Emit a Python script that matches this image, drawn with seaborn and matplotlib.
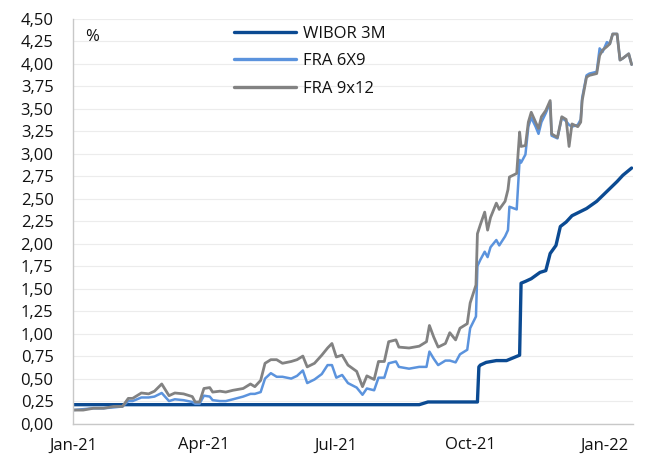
import pandas as pd
import matplotlib
matplotlib.use("Agg")
import matplotlib.pyplot as plt
import matplotlib.dates as mdates
from matplotlib.ticker import FuncFormatter, MultipleLocator
import seaborn as sns

# FRA quotes (same dates for both series)
fra_dates = [
    "2021-01-01", "2021-01-08", "2021-01-15", "2021-01-22", "2021-01-29", "2021-02-04",
    "2021-02-08", "2021-02-11", "2021-02-17", "2021-02-22", "2021-02-26", "2021-03-03",
    "2021-03-08", "2021-03-12", "2021-03-18", "2021-03-24", "2021-03-26", "2021-03-29",
    "2021-04-01", "2021-04-05", "2021-04-07", "2021-04-12", "2021-04-16", "2021-04-21",
    "2021-04-28", "2021-05-03", "2021-05-06", "2021-05-10", "2021-05-13", "2021-05-17",
    "2021-05-21", "2021-05-25", "2021-05-31", "2021-06-04", "2021-06-08", "2021-06-11",
    "2021-06-16", "2021-06-21", "2021-06-25", "2021-06-28", "2021-07-01", "2021-07-05",
    "2021-07-09", "2021-07-15", "2021-07-19", "2021-07-22", "2021-07-27", "2021-07-30",
    "2021-08-03", "2021-08-06", "2021-08-11", "2021-08-13", "2021-08-20", "2021-08-27",
    "2021-09-01", "2021-09-03", "2021-09-06", "2021-09-09", "2021-09-14", "2021-09-17",
    "2021-09-21", "2021-09-24", "2021-09-29", "2021-10-01", "2021-10-05", "2021-10-06",
    "2021-10-08", "2021-10-11", "2021-10-13", "2021-10-15", "2021-10-19", "2021-10-21",
    "2021-10-25", "2021-10-27", "2021-10-28", "2021-11-02", "2021-11-04", "2021-11-05",
    "2021-11-08", "2021-11-10", "2021-11-12", "2021-11-15", "2021-11-17", "2021-11-19",
    "2021-11-22", "2021-11-25", "2021-11-26", "2021-11-30", "2021-12-03", "2021-12-06",
    "2021-12-08", "2021-12-10", "2021-12-14", "2021-12-16", "2021-12-17", "2021-12-20",
    "2021-12-22", "2021-12-27", "2021-12-29", "2021-12-31", "2022-01-03", "2022-01-05",
    "2022-01-07", "2022-01-10", "2022-01-12", "2022-01-14", "2022-01-18", "2022-01-20",
]
fra_9x12 = [
    0.15, 0.15, 0.17, 0.17, 0.19, 0.19,
    0.28, 0.28, 0.34, 0.33, 0.36, 0.44,
    0.31, 0.34, 0.33, 0.30, 0.24, 0.24,
    0.39, 0.40, 0.35, 0.36, 0.35, 0.37,
    0.39, 0.44, 0.41, 0.48, 0.67, 0.71,
    0.71, 0.67, 0.69, 0.71, 0.75, 0.63,
    0.67, 0.76, 0.84, 0.89, 0.74, 0.76,
    0.65, 0.58, 0.41, 0.53, 0.49, 0.69,
    0.69, 0.91, 0.93, 0.85, 0.84, 0.86,
    0.91, 1.09, 0.96, 0.85, 0.89, 1.01,
    0.93, 1.06, 1.11, 1.34, 1.54, 2.11,
    2.21, 2.35, 2.15, 2.29, 2.45, 2.38,
    2.47, 2.60, 2.74, 2.78, 3.24, 3.08,
    3.09, 3.35, 3.46, 3.35, 3.28, 3.41,
    3.48, 3.59, 3.22, 3.18, 3.41, 3.38,
    3.08, 3.33, 3.30, 3.35, 3.59, 3.85,
    3.87, 3.89, 4.09, 4.15, 4.19, 4.22,
    4.33, 4.33, 4.04, 4.06, 4.11, 3.99,
]
fra_6x9 = [
    0.15, 0.16, 0.17, 0.17, 0.18, 0.19,
    0.25, 0.25, 0.29, 0.29, 0.30, 0.34,
    0.25, 0.27, 0.26, 0.24, 0.22, 0.22,
    0.31, 0.30, 0.26, 0.25, 0.25, 0.27,
    0.30, 0.33, 0.33, 0.35, 0.50, 0.56,
    0.52, 0.52, 0.50, 0.53, 0.59, 0.45,
    0.49, 0.55, 0.65, 0.65, 0.51, 0.54,
    0.45, 0.40, 0.32, 0.39, 0.37, 0.51,
    0.51, 0.67, 0.69, 0.63, 0.61, 0.63,
    0.63, 0.80, 0.72, 0.65, 0.70, 0.70,
    0.68, 0.77, 0.82, 1.06, 1.19, 1.75,
    1.82, 1.91, 1.85, 1.96, 2.04, 1.98,
    2.08, 2.15, 2.41, 2.38, 2.93, 2.90,
    2.99, 3.30, 3.40, 3.30, 3.22, 3.35,
    3.45, 3.57, 3.20, 3.17, 3.40, 3.36,
    3.32, 3.30, 3.32, 3.38, 3.62, 3.87,
    3.89, 3.91, 4.17, 4.13, 4.24, 4.22,
    4.33, 4.33, 4.04, 4.06, 4.11, 3.99,
]

wibor_dates = [
    "2021-01-01", "2021-08-27", "2021-09-02", "2021-10-06", "2021-10-07", "2021-10-08",
    "2021-10-12", "2021-10-19", "2021-10-26", "2021-11-01", "2021-11-04", "2021-11-05",
    "2021-11-08", "2021-11-12", "2021-11-18", "2021-11-22", "2021-11-25", "2021-11-29",
    "2021-12-02", "2021-12-06", "2021-12-10", "2021-12-20", "2021-12-27", "2022-01-03",
    "2022-01-10", "2022-01-14", "2022-01-20",
]
wibor_3m = [
    0.21, 0.21, 0.24, 0.24, 0.63, 0.65,
    0.68, 0.70, 0.70, 0.74, 0.76, 1.56,
    1.58, 1.61, 1.68, 1.70, 1.89, 1.98,
    2.19, 2.24, 2.31, 2.39, 2.47, 2.58,
    2.69, 2.76, 2.84,
]

sns.set_style("white")
plt.rcParams["font.family"] = ["Open Sans", "DejaVu Sans"]

fig = plt.figure(figsize=(6.46, 4.67), dpi=100)
ax = fig.add_axes([0.113, 0.093, 0.867, 0.867])

sns.lineplot(x=pd.to_datetime(wibor_dates), y=wibor_3m, ax=ax, color="#0b4a92",
             linewidth=2.4, label="WIBOR 3M")
sns.lineplot(x=pd.to_datetime(fra_dates), y=fra_6x9, ax=ax, color="#5b93dd",
             linewidth=1.8, label="FRA 6X9")
sns.lineplot(x=pd.to_datetime(fra_dates), y=fra_9x12, ax=ax, color="#828282",
             linewidth=2.0, label="FRA 9x12")

ax.set_xlim(pd.Timestamp("2021-01-01"), pd.Timestamp("2022-01-21"))
ax.set_ylim(0, 4.5)
ax.yaxis.set_major_locator(MultipleLocator(0.25))
ax.yaxis.set_major_formatter(FuncFormatter(lambda v, p: f"{v:.2f}".replace(".", ",")))
ax.xaxis.set_major_locator(mdates.MonthLocator(bymonth=[1, 4, 7, 10]))
ax.xaxis.set_major_formatter(mdates.DateFormatter("%b-%y"))

ax.grid(axis="y", color="#ececec", linewidth=0.8)
ax.set_axisbelow(True)
for s in ["top", "right"]:
    ax.spines[s].set_visible(False)
for s in ["left", "bottom"]:
    ax.spines[s].set_color("#c8c8c8")
    ax.spines[s].set_linewidth(1.0)
ax.tick_params(axis="both", which="major", direction="out", length=5, width=1,
               color="#c8c8c8", labelsize=12, labelcolor="#111111")
ax.tick_params(axis="y", pad=9)
ax.tick_params(axis="x", pad=5)
ax.set_xlabel("")
ax.set_ylabel("")

ax.text(0.022, 0.975, "%", transform=ax.transAxes, fontsize=12, color="#111111",
        va="top", ha="left")

leg = ax.legend(loc="upper left", bbox_to_anchor=(0.27, 1.007), frameon=False,
                fontsize=12, handlelength=3.7, handletextpad=0.4, labelspacing=0.68,
                borderaxespad=0.2)
for line in leg.get_lines():
    line.set_linewidth(2.4)
for t in leg.get_texts():
    t.set_color("#111111")

fig.savefig("out.png", dpi=100)
